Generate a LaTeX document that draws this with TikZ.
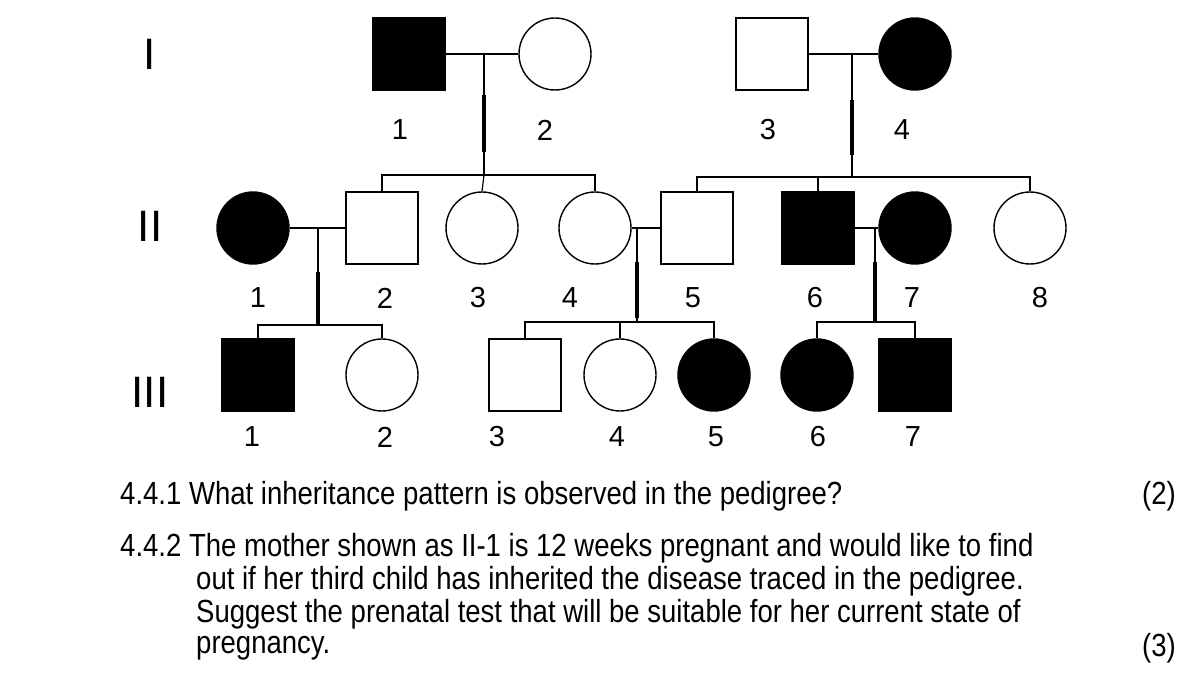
\documentclass[tikz,border=0pt]{standalone}
\usepackage{fontspec}
\setmainfont{Liberation Sans}
\newfontfamily\narrowf[FakeStretch=0.86]{Liberation Sans}
\begin{document}
\begin{tikzpicture}[x=1pt,y=-1pt,
  sq/.style={draw,line width=1.4pt,minimum size=72pt,inner sep=0pt},
  ci/.style={draw,circle,line width=1.4pt,minimum size=72pt,inner sep=0pt},
  aff/.style={fill=black},
  ln/.style={line width=1.2pt},
  thk/.style={line width=4pt},
  num/.style={font=\fontsize{29}{31}\selectfont},
  gen/.style={font=\fontsize{44}{46}\selectfont},
  txt/.style={font=\narrowf\fontsize{32}{34}\selectfont,anchor=west,inner sep=0pt}]
\useasboundingbox (0,0) rectangle (1200,682);
% generation I
\node[sq,aff] (a1) at (409,54) {};
\node[ci] (a2) at (555,54) {};
\node[sq] (a3) at (772,54) {};
\node[ci,aff] (a4) at (915,54) {};
% generation II
\node[ci,aff] (b1) at (253,228) {};
\node[sq] (b2) at (382,228) {};
\node[ci] (b3) at (482,228) {};
\node[ci] (b4) at (595,228) {};
\node[sq] (b5) at (697,228) {};
\node[sq,aff] (b6) at (818,228) {};
\node[ci,aff] (b7) at (915,228) {};
\node[ci] (b8) at (1030,228) {};
% generation III
\node[sq,aff] (c1) at (258,375) {};
\node[ci] (c2) at (382,375) {};
\node[sq] (c3) at (525,375) {};
\node[ci] (c4) at (620,375) {};
\node[ci,aff] (c5) at (714,375) {};
\node[ci,aff] (c6) at (817,375) {};
\node[sq,aff] (c7) at (915,375) {};
% couple / sibship coordinates
\coordinate (m1) at (484,54); \coordinate (m1a) at (484,95); \coordinate (m1b) at (484,152); \coordinate (s1) at (484,175);
\coordinate (m2) at (852,54); \coordinate (m2a) at (852,100); \coordinate (m2b) at (852,155); \coordinate (s2) at (852,177);
\coordinate (m3) at (318,228); \coordinate (m3a) at (318,272); \coordinate (s3) at (318,325);
\coordinate (m4) at (637,228); \coordinate (m4a) at (637,262); \coordinate (m4b) at (637,318); \coordinate (s4) at (637,322);
\coordinate (m5) at (875,228); \coordinate (m5a) at (875,262); \coordinate (s5) at (875,322);
% marriages
\draw[ln] (a1) -- (a2); \draw[ln] (a3) -- (a4);
\draw[ln] (b1) -- (b2); \draw[ln] (b4) -- (b5); \draw[ln] (b6) -- (b7);
% descent lines
\draw[ln] (m1) -- (m1a); \draw[thk] (m1a) -- (m1b); \draw[ln] (m1b) -- (s1);
\draw[ln] (m2) -- (m2a); \draw[thk] (m2a) -- (m2b); \draw[ln] (m2b) -- (s2);
\draw[ln] (m3) -- (m3a); \draw[thk] (m3a) -- (s3);
\draw[ln] (m4) -- (m4a); \draw[thk] (m4a) -- (m4b); \draw[ln] (m4b) -- (s4);
\draw[ln] (m5) -- (m5a); \draw[thk] (m5a) -- (s5);
% sibships
\draw[ln] (b2.north) |- (s1) -| (b4.north); \draw[ln] (s1) -- (b3.north);
\draw[ln] (b5.north) |- (s2) -| (b8.north); \draw[ln] (s2) -| (b6.north);
\draw[ln] (c1.north) |- (s3) -| (c2.north);
\draw[ln] (c3.north) |- (s4) -| (c5.north); \draw[ln] (s4) -| (c4.north);
\draw[ln] (c6.north) |- (s5) -| (c7.north);
% numbers
\foreach \n/\x in {1/400,2/545,3/768,4/902} \node[num] (na\n) at (\x,130) {\n};
\foreach \n/\x in {1/258,2/385,3/478,4/570,5/693,6/815,7/912,8/1040} \node[num] (nb\n) at (\x,298) {\n};
\foreach \n/\x in {1/252,2/385,3/497,4/617,5/716,6/818,7/913} \node[num] (nc\n) at (\x,437) {\n};
% generation labels
\node[gen] (g1) at (150,54) {I};
\node[gen] (g2) at (150,226) {II};
\node[gen] (g3) at (150,392) {III};
% question text
\node[txt] (q1) at (120,496) {4.4.1 What inheritance pattern is observed in the pedigree?};
\node[txt,anchor=east] (p1) at (1176,496) {(2)};
\node[txt] (q2) at (120,548) {4.4.2 The mother shown as II-1 is 12 weeks pregnant and would like to find};
\node[txt] (q3) at (196,581) {out if her third child has inherited the disease traced in the pedigree.};
\node[txt] (q4) at (196,614) {Suggest the prenatal test that will be suitable for her current state of};
\node[txt] (q5) at (196,648) {pregnancy.};
\node[txt,anchor=east] (p2) at (1176,648) {(3)};
\end{tikzpicture}
\end{document}
